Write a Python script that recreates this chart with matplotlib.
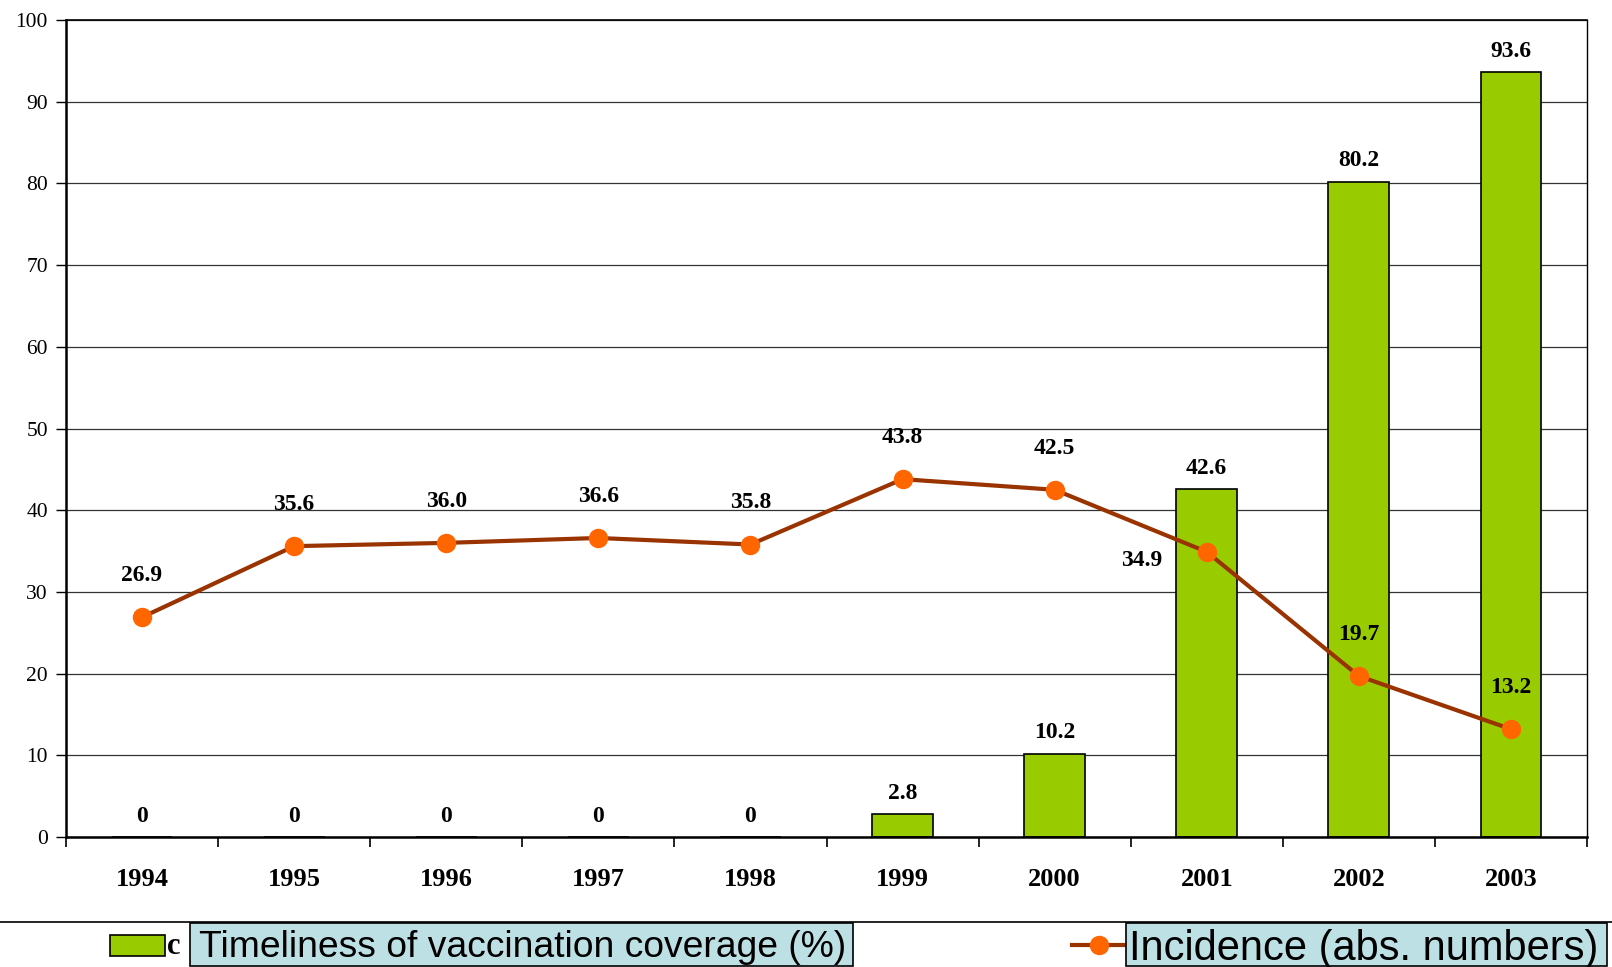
import matplotlib
matplotlib.use("Agg")
import matplotlib.pyplot as plt
from matplotlib.patches import Rectangle
from matplotlib.lines import Line2D

years = ["1994", "1995", "1996", "1997", "1998", "1999", "2000", "2001", "2002", "2003"]
coverage = [0, 0, 0, 0, 0, 2.8, 10.2, 42.6, 80.2, 93.6]
incidence = [26.9, 35.6, 36.0, 36.6, 35.8, 43.8, 42.5, 34.9, 19.7, 13.2]
coverage_labels = ["0", "0", "0", "0", "0", "2.8", "10.2", "42.6", "80.2", "93.6"]
incidence_labels = ["26.9", "35.6", "36.0", "36.6", "35.8", "43.8", "42.5", "34.9", "19.7", "13.2"]
legend_bar = "Timeliness of vaccination coverage (%)"
legend_line = "Incidence (abs. numbers)"

W, H = 1612, 967
fig = plt.figure(figsize=(W / 100, H / 100), dpi=100)
ax = fig.add_axes([66 / W, (H - 837) / H, (1587 - 66) / W, (837 - 20) / H])

serif = "Liberation Serif"
x = list(range(len(years)))

ax.set_axisbelow(True)
ax.yaxis.grid(True, color="#333333", linewidth=0.9)
ax.bar(x, coverage, width=0.4, color="#99CC00", edgecolor="black", linewidth=1.2, zorder=2)
ax.plot(x, incidence, color="#993300", linewidth=3, marker="o", markersize=13,
        markerfacecolor="#FF6600", markeredgecolor="#FF6600", zorder=3)

ax.set_xlim(-0.5, len(years) - 0.5)
ax.set_ylim(0, 100)
ax.set_yticks(range(0, 101, 10))
ax.set_yticklabels([str(v) for v in range(0, 101, 10)], fontfamily=serif, fontsize=15.5)
ax.set_xticks(x)
ax.set_xticklabels(years, fontfamily=serif, fontsize=19, fontweight="bold")
ax.tick_params(axis="x", which="major", length=0, pad=22)
ax.set_xticks([i - 0.5 for i in range(len(years) + 1)], minor=True)
ax.tick_params(axis="x", which="minor", length=7, width=1.2, direction="out")
ax.tick_params(axis="y", length=7, width=1, direction="out", pad=6)

for s in ["left", "bottom"]:
    ax.spines[s].set_linewidth(1.8)
ax.spines["top"].set_linewidth(1.2)
ax.spines["right"].set_linewidth(1.0)

for i, (v, lab) in enumerate(zip(coverage, coverage_labels)):
    ax.annotate(lab, (i, v), xytext=(0, 15), textcoords="offset points",
                ha="center", va="center", fontfamily=serif, fontsize=17, fontweight="bold")

for i, (v, lab) in enumerate(zip(incidence, incidence_labels)):
    if i == 7:
        off = (-47, -6)
    else:
        off = (0, 30)
    ax.annotate(lab, (i, v), xytext=off, textcoords="offset points",
                ha="center", va="center", fontfamily=serif, fontsize=17, fontweight="bold")

# Legend area
fy = lambda py: (H - py) / H
fx = lambda px: px / W
fig.add_artist(Line2D([0, 1], [fy(922), fy(922)], color="black", linewidth=1.2))
fig.add_artist(Rectangle((fx(110), fy(956)), fx(165) - fx(110), fy(935) - fy(956),
                         facecolor="#99CC00", edgecolor="black", linewidth=1.2))
fig.text(fx(167), fy(954), "c", fontfamily=serif, fontsize=22, fontweight="bold",
         va="baseline", ha="left")
fig.add_artist(Rectangle((fx(190), fy(966)), fx(853) - fx(190), fy(923) - fy(966),
                         facecolor="#BDE0E4", edgecolor="black", linewidth=1.2, zorder=5))
fig.text(fx(199), fy(957), legend_bar, fontfamily="Liberation Sans", fontsize=26.8,
         va="baseline", ha="left", zorder=6)
fig.add_artist(Line2D([fx(1072), fx(1126)], [fy(945), fy(945)], color="#993300", linewidth=3))
fig.add_artist(Line2D([fx(1099)], [fy(945)], marker="o", markersize=13,
                      markerfacecolor="#FF6600", markeredgecolor="#FF6600"))
fig.add_artist(Rectangle((fx(1126), fy(966)), fx(1607) - fx(1126), fy(923) - fy(966),
                         facecolor="#BDE0E4", edgecolor="black", linewidth=1.2, zorder=5))
fig.text(fx(1129), fy(960), legend_line, fontfamily="Liberation Sans", fontsize=30,
         va="baseline", ha="left", zorder=6)

fig.savefig("out.png", dpi=100)
